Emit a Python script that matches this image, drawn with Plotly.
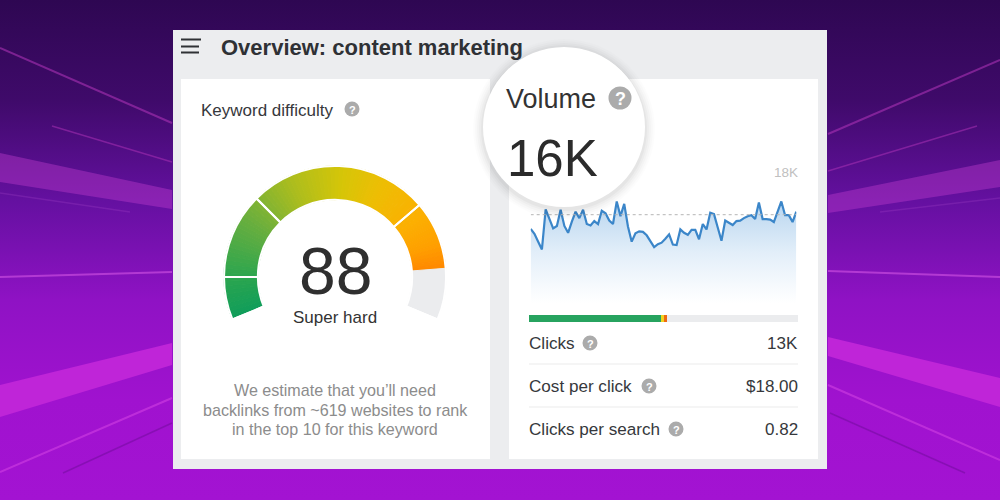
"""
Keyword overview card (volume trend, difficulty gauge) on a purple backdrop
"""
import plotly.graph_objects as go

# Volume history, thousands of searches per month
months = list(range(72))
volume = [
    15.1, 14.1, 12.5, 10.9, 19.1, 17.1, 15.2, 15.7, 19.0, 15.7, 14.3, 16.6,
    18.6, 17.3, 19.0, 16.1, 15.8, 16.7, 16.1, 18.8, 18.3, 16.8, 16.1, 20.7,
    17.7, 20.2, 15.6, 12.5, 14.2, 14.6, 14.5, 13.8, 12.6, 11.4, 12.0, 12.3,
    13.1, 14.0, 11.9, 11.8, 15.0, 14.3, 13.9, 14.9, 14.9, 13.0, 16.1, 15.0,
    18.4, 18.1, 15.4, 12.7, 16.8, 16.4, 15.9, 16.7, 16.8, 17.3, 17.7, 17.9,
    17.1, 20.5, 17.1, 17.1, 17.0, 16.5, 18.6, 20.7, 17.9, 17.9, 16.5, 18.6,
]
volume_peak = 18.0

# Share of clicks bar
click_shares = [49.2, 1.1, 1.0, 48.7]
click_colors = ["#27a35f", "#f2d21f", "#ee6a12", "#ebecee"]

# Difficulty gauge
difficulty = 88
gauge_max = 100
gauge_dividers = [10, 30, 72]
gauge_sweep = 225
gauge_stops = [
    (0, (15, 157, 91)), (10, (44, 166, 80)), (25, (106, 175, 62)),
    (40, (176, 190, 28)), (52, (214, 198, 8)), (62, (238, 190, 4)),
    (74, (252, 176, 2)), (82, (255, 160, 0)), (88, (255, 136, 0)),
]

stats = [("Clicks", "13K"), ("Cost per click", "$18.00"), ("Clicks per search", "0.82")]
note_lines = [
    "We estimate that you’ll need",
    "backlinks from ~619 websites to rank",
    "in the top 10 for this keyword",
]

FONT = "Liberation Sans"
INK = "#36383c"
W, H = 1000, 500


def px_x(x):
    return x / W


def px_y(y):
    return 1 - y / H


def gauge_color(pos):
    for (a, ca), (b, cb) in zip(gauge_stops, gauge_stops[1:]):
        if a <= pos <= b:
            t = (pos - a) / (b - a)
            return "rgb(%d,%d,%d)" % tuple(ca[i] + (cb[i] - ca[i]) * t for i in range(3))
    return "rgb(%d,%d,%d)" % gauge_stops[-1][1]


fig = go.Figure()


def poly(points, color, line=0):
    xs = [p[0] for p in points]
    ys = [p[1] for p in points]
    if line:
        fig.add_trace(go.Scatter(x=xs, y=ys, mode="lines", line=dict(color=color, width=line),
                                 hoverinfo="skip", showlegend=False))
    else:
        fig.add_trace(go.Scatter(x=xs, y=ys, mode="lines", line=dict(width=0), fill="toself",
                                 fillcolor=color, hoverinfo="skip", showlegend=False))


# Backdrop gradient, stop 0 is the bottom of the picture
fig.add_trace(go.Scatter(
    x=[0, W, W, 0, 0], y=[0, 0, H, H, 0], mode="lines", line=dict(width=0), fill="toself",
    fillgradient=dict(type="vertical", colorscale=[
        [0, "#a313d2"], [0.2, "#a012cf"], [0.4, "#8f12c4"], [0.6, "#6410a0"],
        [0.8, "#3f0a6a"], [1, "#2e0752"]]),
    hoverinfo="skip", showlegend=False))

# Light beams
poly([(0, 153), (172, 190), (172, 209), (0, 182)], "rgba(190,60,205,0.42)")
poly([(0, 385), (172, 343), (172, 365), (0, 417)], "#bf25d8")
poly([(828, 195), (1000, 160), (1000, 187), (828, 213)], "rgba(190,60,205,0.42)")
poly([(828, 337), (1000, 378), (1000, 407), (828, 356)], "#bf25d8")
poly([(0, 48), (172, 123)], "rgba(170,50,180,0.6)", 2)
poly([(52, 126), (172, 162)], "rgba(170,50,180,0.55)", 1.5)
poly([(0, 277), (172, 272)], "rgba(205,80,225,0.65)", 2)
poly([(0, 472), (172, 398)], "rgba(205,60,225,0.65)", 2)
poly([(63, 473), (172, 423)], "rgba(90,10,130,0.35)", 1.5)
poly([(0, 193), (130, 212)], "rgba(190,90,215,0.2)", 1.5)
poly([(828, 134), (1000, 60)], "rgba(170,50,180,0.6)", 2)
poly([(828, 171), (977, 126)], "rgba(170,50,180,0.55)", 1.5)
poly([(828, 271), (1000, 277)], "rgba(205,80,225,0.65)", 2)
poly([(828, 385), (1000, 460)], "rgba(205,60,225,0.65)", 2)
poly([(830, 413), (965, 473)], "rgba(90,10,130,0.35)", 1.5)
poly([(880, 212), (1000, 198)], "rgba(190,90,215,0.2)", 1.5)

# Panel and the two cards
poly([(173, 30), (827, 30), (827, 469), (173, 469)], "#ecedef")
poly([(181, 79), (490, 79), (490, 459), (181, 459)], "#ffffff")
poly([(509, 79), (818, 79), (818, 459), (509, 459)], "#ffffff")

# Volume trend
fig.add_trace(go.Scatter(
    x=months, y=volume, mode="lines", xaxis="x2", yaxis="y2",
    line=dict(color="#3b86c9", width=2.2), fill="tozeroy",
    fillgradient=dict(type="vertical", colorscale=[
        [0, "rgba(255,255,255,0.9)"], [0.5, "#e2eef9"], [1, "#b8d5ef"]]),
    hoverinfo="skip", showlegend=False))
fig.add_trace(go.Scatter(
    x=[months[0], months[-1]], y=[volume_peak, volume_peak], mode="lines",
    xaxis="x2", yaxis="y2", line=dict(color="#b5b5b5", width=1, dash="3px,3px"),
    hoverinfo="skip", showlegend=False))

# Click share bar
for share, color in zip(click_shares, click_colors):
    fig.add_trace(go.Bar(x=[share], y=[0], orientation="h", xaxis="x3", yaxis="y3", width=1,
                         marker=dict(color=color, line=dict(width=0)),
                         hoverinfo="skip", showlegend=False))

# Gauge, one thin slice per unit so the colour runs along the arc
hidden = gauge_max * (360 - gauge_sweep) / gauge_sweep
slices = [1] * difficulty + [gauge_max - difficulty, hidden]
slice_colors = [gauge_color(i + 0.5) for i in range(difficulty)] + ["#ebecee", "rgba(0,0,0,0)"]
gauge_domain = dict(x=[px_x(224), px_x(446)], y=[px_y(388), px_y(166)])
fig.add_trace(go.Pie(
    values=slices, sort=False, direction="clockwise", rotation=-gauge_sweep / 2, hole=0.695,
    domain=gauge_domain, textinfo="none", hoverinfo="skip", showlegend=False,
    marker=dict(colors=slice_colors, line=dict(color=slice_colors, width=1))))
dividers = [gauge_dividers[0]] + [b - a for a, b in zip(gauge_dividers, gauge_dividers[1:])]
dividers += [gauge_max - gauge_dividers[-1], hidden]
fig.add_trace(go.Pie(
    values=dividers, sort=False, direction="clockwise", rotation=-gauge_sweep / 2, hole=0.695,
    domain=gauge_domain, textinfo="none", hoverinfo="skip", showlegend=False,
    marker=dict(colors=["rgba(0,0,0,0)"] * len(dividers), line=dict(color="white", width=2))))

shapes = []
annotations = []


def text(x, y, s, size, color=INK, anchor="left", bold=False):
    # annotations sit one pixel inside their anchor
    shift = {"left": -1, "right": 1, "center": 0}[anchor]
    annotations.append(dict(
        x=x + shift, y=y, xref="x", yref="y", text=f"<b>{s}</b>" if bold else s, showarrow=False,
        xanchor=anchor, yanchor="middle", borderpad=0,
        font=dict(family=FONT, size=size, color=color)))


def help_icon(x, y, r, size):
    shapes.append(dict(type="circle", xref="x", yref="y", x0=x - r, x1=x + r, y0=y - r, y1=y + r,
                       fillcolor="#ababab", line=dict(width=0), layer="above"))
    text(x, y + 0.5, "?", size, "#ffffff", "center", True)


# Hamburger icon
for y, x1 in [(39.5, 201), (46.5, 199), (52.5, 199)]:
    shapes.append(dict(type="line", xref="x", yref="y", x0=181, x1=x1, y0=y, y1=y,
                       line=dict(color="#2f3135", width=2), layer="above"))

# Stat row dividers
for y in [364, 407]:
    shapes.append(dict(type="line", xref="x", yref="y", x0=529, x1=798, y0=y, y1=y,
                       line=dict(color="#ececec", width=1.2), layer="above"))

# Magnifier bubble and its soft shadow
for grow, alpha in [(10, 0.012), (8, 0.015), (6, 0.018), (4, 0.022), (2, 0.03)]:
    shapes.append(dict(type="circle", xref="x", yref="y", x0=564 - 81 - grow, x1=564 + 81 + grow,
                       y0=127 - 80 - grow + 2, y1=127 + 80 + grow + 2,
                       fillcolor=f"rgba(0,0,0,{alpha})", line=dict(width=0), layer="above"))
shapes.append(dict(type="circle", xref="x", yref="y", x0=483, x1=645, y0=47, y1=207,
                   fillcolor="#ffffff", line=dict(width=0), layer="above"))

text(221, 47, "Overview: content marketing", 22, "#2f3135", bold=True)
text(201, 110, "Keyword difficulty", 17)
help_icon(352, 109, 7.5, 11)
text(335, 271, str(difficulty), 66, "#2f2f2f", "center")
text(335, 317, "Super hard", 17, "#333333", "center")
for y, line in zip([390, 409.5, 429], note_lines):
    text(335, y, line, 16.1, "#8c8c8c", "center")

text(506, 99, "Volume", 27, "#333333")
help_icon(620, 98, 11.5, 18)
text(507, 158, "16K", 51, "#2b2b2b")
text(798, 172, "18K", 13.5, "#c0c0c0", "right")

for (label, value), y, icon_x in zip(stats, [343, 386, 429], [590, 649, 676]):
    text(529, y, label, 17.1)
    text(798, y, value, 17, INK, "right")
    help_icon(icon_x, y, 7.5, 11)

axis_off = dict(visible=False, showgrid=False, zeroline=False, fixedrange=True)
fig.update_layout(
    width=W, height=H, margin=dict(l=0, r=0, t=0, b=0), showlegend=False,
    paper_bgcolor="#2e0752", plot_bgcolor="rgba(0,0,0,0)", barmode="stack", hovermode=False,
    xaxis=dict(range=[0, W], domain=[0, 1], **axis_off),
    yaxis=dict(range=[H, 0], domain=[0, 1], **axis_off),
    xaxis2=dict(range=[months[0], months[-1]], domain=[px_x(530.7), px_x(796.3)], anchor="y2", **axis_off),
    yaxis2=dict(range=[0, 26.7], domain=[px_y(303), px_y(172)], anchor="x2", **axis_off),
    xaxis3=dict(range=[0, 100], domain=[px_x(529), px_x(798)], anchor="y3", **axis_off),
    yaxis3=dict(range=[-0.5, 0.5], domain=[px_y(322), px_y(314.5)], anchor="x3", **axis_off),
    shapes=shapes, annotations=annotations,
)

fig.write_html("out.html", config=dict(displayModeBar=False),
               post_script="document.body.style.margin='0';document.body.style.overflow='hidden';")
